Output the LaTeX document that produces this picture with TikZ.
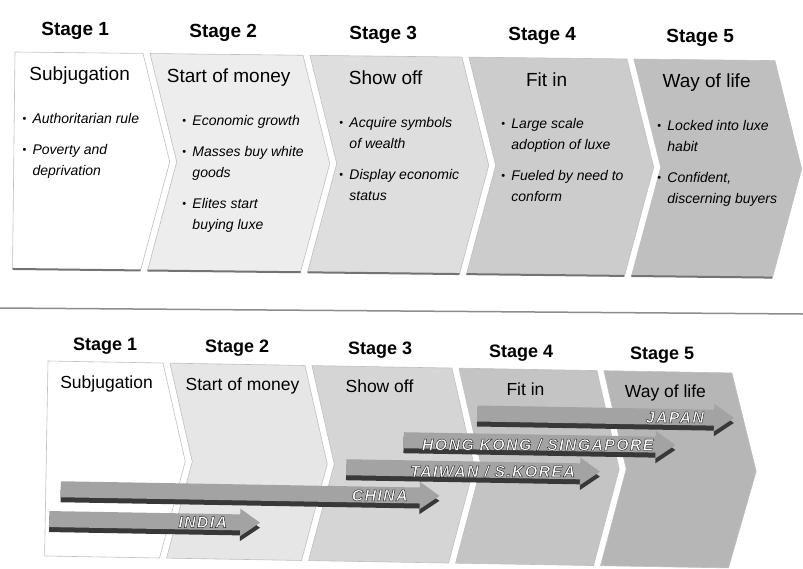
\documentclass[tikz,border=0pt]{standalone}
\usepackage{fontspec}
\setmainfont{Liberation Sans}
\newfontfamily\countryfont[LetterSpace=8]{Liberation Sans}
\usetikzlibrary{arrows.meta}
\definecolor{tierA}{gray}{1.00}
\definecolor{tierB}{gray}{0.93}
\definecolor{tierC}{gray}{0.87}
\definecolor{tierD}{gray}{0.80}
\definecolor{tierE}{gray}{0.75}
\newcommand{\factbul}{\makebox[10pt][l]{\upshape\raisebox{1pt}{\fontsize{11}{11}\selectfont\textbullet}}}
\newcommand{\factcont}{\hspace*{10pt}}
\newcommand{\outlined}[1]{\special{pdf:literal direct 0.45 w 0.15 G 2 Tr}#1\special{pdf:literal direct 0 Tr}}
\tikzset{stage/.style={font=\bfseries\fontsize{#1}{#1}\selectfont,anchor=base,inner sep=0pt},
  stage/.default=19}
\tikzset{phase/.style={font=\fontsize{#1}{#1}\selectfont,anchor=base,inner sep=0pt},
  phase/.default=19}
\tikzset{facts/.style={font=\itshape\fontsize{14}{21}\selectfont,
        align=left,anchor=north west,inner sep=0pt}}
\tikzset{chevron/.style={draw=black!25,line width=0.6pt}}
\tikzset{chevbase/.style={draw=black!55,line width=2pt}}
\tikzset{bar/.style={line width=16pt,draw=black!36,-{Triangle[length=20pt,width=26pt]}}}
\tikzset{barshadow/.style={line width=16pt,draw=black!78,-{Triangle[length=20pt,width=26pt]}}}
\tikzset{country/.style={font=\countryfont\bfseries\itshape\fontsize{16}{16}\selectfont,
        text=white,anchor=east,inner sep=0pt}}
\tikzset{sepline/.style={draw=black!45,line width=1.5pt}}

\begin{document}
\begin{tikzpicture}[x=1pt,y=-1pt]
  \useasboundingbox (0,0) rectangle (803,568);
  \fill[white] (0,0) rectangle (803,568);

  % stages with their traits
  \begin{scope}[rotate around={-0.65:(15,52)}]
    \filldraw [chevron,fill=tierA] (15,52) -- (143,52) -- (171,160) -- (143,269) -- (15,269) -- cycle;
    \filldraw [chevron,fill=tierB] (150,52) -- (303,52) -- (331,160) -- (303,269) -- (150,269) -- (178,160) -- cycle;
    \filldraw [chevron,fill=tierC] (310,52) -- (462,52) -- (490,160) -- (462,269) -- (310,269) -- (338,160) -- cycle;
    \filldraw [chevron,fill=tierD] (469,52) -- (627,52) -- (655,160) -- (627,269) -- (469,269) -- (497,160) -- cycle;
    \filldraw [chevron,fill=tierE] (634,52) -- (775,52) -- (803,160) -- (775,269) -- (634,269) -- (662,160) -- cycle;
    \draw [chevbase] (15,269) -- (143,269);
    \draw [chevbase] (150,269) -- (303,269);
    \draw [chevbase] (310,269) -- (462,269);
    \draw [chevbase] (469,269) -- (627,269);
    \draw [chevbase] (634,269) -- (775,269);

    \node [stage] (top-stage1) at (75,35) {Stage 1};
    \node [stage] (top-stage2) at (223,35) {Stage 2};
    \node [stage] (top-stage3) at (383,35) {Stage 3};
    \node [stage] (top-stage4) at (542,35) {Stage 4};
    \node [stage] (top-stage5) at (700,35) {Stage 5};

    \node [phase] (top-phase1) at (80,80) {Subjugation};
    \node [phase] (top-phase2) at (229,80) {Start of money};
    \node [phase] (top-phase3) at (386,80) {Show off};
    \node [phase] (top-phase4) at (547,80) {Fit in};
    \node [phase] (top-phase5) at (707,80) {Way of life};

    \node [facts] (facts1) at (23,113) {\factbul Authoritarian rule\\[10pt]
      \factbul Poverty and\\ \factcont deprivation};
    \node [facts] (facts2) at (183,113) {\factbul Economic growth\\[10pt]
      \factbul Masses buy white\\ \factcont goods\\[10pt]
      \factbul Elites start\\ \factcont buying luxe};
    \node [facts] (facts3) at (340,113) {\factbul Acquire symbols\\ \factcont of wealth\\[10pt]
      \factbul Display economic\\ \factcont status};
    \node [facts] (facts4) at (502,113) {\factbul Large scale\\ \factcont adoption of luxe\\[10pt]
      \factbul Fueled by need to\\ \factcont conform};
    \node [facts] (facts5) at (658,113) {\factbul Locked into luxe\\ \factcont habit\\[10pt]
      \factbul Confident,\\ \factcont discerning buyers};
  \end{scope}

  \draw [sepline] (0,308) -- (803,314);

  % where each market stands
  \begin{scope}[rotate around={-1:(48,361)}]
    \filldraw [chevron,fill=tierA] (48,361) -- (163,361) -- (187,459) -- (163,556) -- (48,556) -- cycle;
    \filldraw [chevron,fill=tierB!97!black] (170,361) -- (305,361) -- (329,459) -- (305,556) -- (170,556) -- (194,459) -- cycle;
    \filldraw [chevron,fill=tierC!96!black] (312,361) -- (452,361) -- (476,459) -- (452,556) -- (312,556) -- (336,459) -- cycle;
    \filldraw [chevron,fill=tierD!96!black] (459,361) -- (597,361) -- (621,459) -- (597,556) -- (459,556) -- (483,459) -- cycle;
    \filldraw [chevron,fill=tierE!95!black] (604,361) -- (732,361) -- (758,459) -- (732,556) -- (604,556) -- (628,459) -- cycle;

    \node [stage=18] (low-stage1) at (105,349) {Stage 1};
    \node [stage=18] (low-stage2) at (237,349) {Stage 2};
    \node [stage=18] (low-stage3) at (380,349) {Stage 3};
    \node [stage=18] (low-stage4) at (521,349) {Stage 4};
    \node [stage=18] (low-stage5) at (662,349) {Stage 5};

    \node [phase=17.5] (low-phase1) at (107,387) {Subjugation};
    \node [phase=17.5] (low-phase2) at (243,387) {Start of money};
    \node [phase=17.5] (low-phase3) at (380,387) {Show off};
    \node [phase=17.5] (low-phase4) at (526,387) {Fit in};
    \node [phase=17.5] (low-phase5) at (666,387) {Way of life};

    \coordinate (japan-a) at (478,406);  \coordinate (japan-b) at (735,406);
    \coordinate (hksg-a) at (405,434);   \coordinate (hksg-b) at (677,434);
    \coordinate (taiwan-a) at (348,462); \coordinate (taiwan-b) at (602,462);
    \coordinate (china-a) at (63,489);   \coordinate (china-b) at (442,489);
    \coordinate (india-a) at (52,519);   \coordinate (india-b) at (263,519);

    \draw [barshadow] ([yshift=-5pt]japan-a) -- ([yshift=-5pt]japan-b);
    \draw [bar] (japan-a) -- (japan-b);
    \draw [barshadow] ([yshift=-5pt]hksg-a) -- ([yshift=-5pt]hksg-b);
    \draw [bar] (hksg-a) -- (hksg-b);
    \draw [barshadow] ([yshift=-5pt]taiwan-a) -- ([yshift=-5pt]taiwan-b);
    \draw [bar] (taiwan-a) -- (taiwan-b);
    \draw [barshadow] ([yshift=-5pt]china-a) -- ([yshift=-5pt]china-b);
    \draw [bar] (china-a) -- (china-b);
    \draw [barshadow] ([yshift=-5pt]india-a) -- ([yshift=-5pt]india-b);
    \draw [bar] (india-a) -- (india-b);

    \node [country] (japan) at (705,406) {\outlined{JAPAN}};
    \node [country] (hksg) at (655,434) {\outlined{HONG KONG / SINGAPORE}};
    \node [country] (taiwan) at (577,462) {\outlined{TAIWAN / S.KOREA}};
    \node [country] (china) at (410,489) {\outlined{CHINA}};
    \node [country] (india) at (230,519) {\outlined{INDIA}};
  \end{scope}
\end{tikzpicture}
\end{document}
